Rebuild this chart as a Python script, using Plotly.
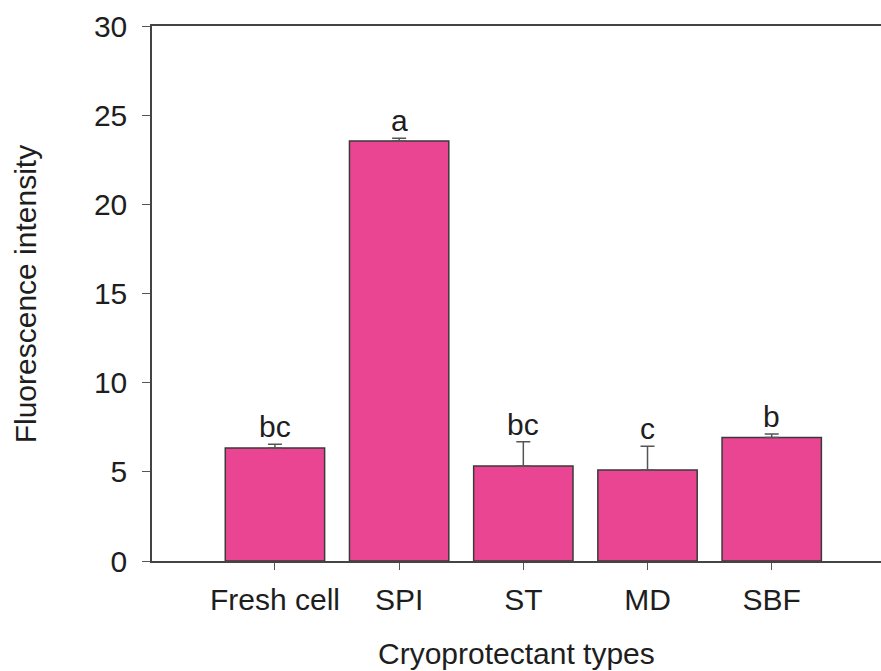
import plotly.graph_objects as go

categories = ["Fresh cell", "SPI", "ST", "MD", "SBF"]
values = [6.34, 23.55, 5.33, 5.1, 6.92]
errors = [0.2, 0.15, 1.35, 1.33, 0.2]
letters = ["bc", "a", "bc", "c", "b"]
y_ticks = [0, 5, 10, 15, 20, 25, 30]

FONT = "Liberation Sans, Arial, sans-serif"
TXT = "#1e1e1e"
FS = 30

fig = go.Figure()
fig.add_trace(go.Bar(
    x=list(range(len(categories))), y=values, width=0.8,
    marker=dict(color="#E94592", line=dict(color="#3a3a3a", width=1.5)),
    error_y=dict(type="data", symmetric=False, array=errors,
                 arrayminus=[0] * len(errors), color="#555555",
                 thickness=1.5, width=7),
    showlegend=False,
))

for i, (v, e, t) in enumerate(zip(values, errors, letters)):
    fig.add_annotation(x=i, y=v + e, text=t, showarrow=False,
                       yanchor="bottom", yshift=-1,
                       font=dict(family=FONT, size=FS, color=TXT))

fig.add_annotation(xref="paper", yref="paper", x=0.5, y=-0.172,
                   text="Cryoprotectant types", showarrow=False,
                   xanchor="center", yanchor="middle",
                   font=dict(family=FONT, size=FS, color=TXT))

fig.add_annotation(xref="paper", yref="paper", x=-0.1742, y=0.4985,
                   text="Fluorescence intensity", showarrow=False,
                   textangle=-90, xanchor="center", yanchor="middle",
                   font=dict(family=FONT, size=FS, color=TXT))

fig.update_layout(
    width=881, height=671,
    margin=dict(l=152, r=0, t=26, b=110),
    paper_bgcolor="white", plot_bgcolor="white",
    bargap=0.2,
    xaxis=dict(range=[-0.99, 4.88], tickmode="array",
               tickvals=list(range(len(categories))), ticktext=categories,
               showline=True, linecolor="#444444", linewidth=1.5,
               mirror=True, ticks="outside", ticklen=7, tickcolor="#555555",
               tickwidth=1.2, showgrid=False, zeroline=False,
               automargin=False, ticklabelstandoff=4,
               tickfont=dict(family=FONT, size=FS, color=TXT)),
    yaxis=dict(range=[0, 30], tickvals=y_ticks,
               showline=True, linecolor="#444444", linewidth=1.5,
               ticks="outside", ticklen=8, tickcolor="#555555",
               tickwidth=1.2, showgrid=False, zeroline=False,
               automargin=False, ticklabelstandoff=9,
               tickfont=dict(family=FONT, size=FS, color=TXT)),
)

fig.write_html("out.html", config={"displayModeBar": False, "responsive": False})
with open("out.html", encoding="utf-8") as f:
    html = f.read()
html = html.replace("<body>", "<body style=\"margin:0;overflow:hidden\">", 1)
with open("out.html", "w", encoding="utf-8") as f:
    f.write(html)
